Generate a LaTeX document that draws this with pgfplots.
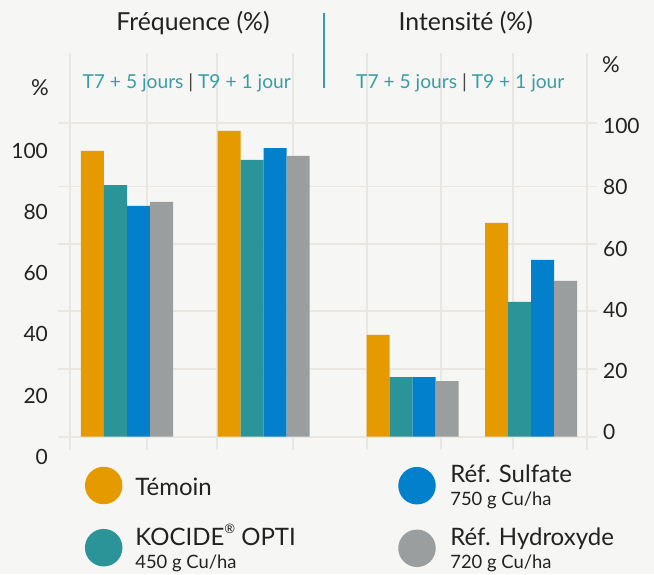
\documentclass[border=0pt]{standalone}
\usepackage{fontspec}
\setmainfont{Lato}
\usepackage{pgfplots}
\pgfplotsset{compat=1.18}
\definecolor{bg}{HTML}{F6F6F4}
\definecolor{gridc}{HTML}{EAE7E2}
\definecolor{corange}{HTML}{E59B00}
\definecolor{cteal}{HTML}{2A9499}
\definecolor{cblue}{HTML}{0280CB}
\definecolor{cgrey}{HTML}{9A9E9F}
\definecolor{subteal}{HTML}{3A9DA5}
\definecolor{txt}{HTML}{222222}
\begin{document}
\begin{tikzpicture}[x=0.5pt,y=0.5pt]
\fill[bg] (0,0) rectangle (654,574);
% main axis: grid + bars
\begin{axis}[at={(29.15pt,62pt)}, anchor=south west, scale only axis,
  width=269.2pt, height=198.35pt,
  xmin=58.3, xmax=596.7, ymin=-4.34, ymax=125.17,
  axis line style={draw=none}, major tick length=0pt,
  xtick={70.3,146.7,217.3,293.3,367.3,440.7,513.3,586.7}, xticklabels={},
  ytick={0,22.07,40.98,62.85,81.68,102.5}, yticklabels={},
  grid=major, grid style={gridc, line width=0.9pt}]
% Frequence (left scale)
\addplot[ybar, bar width=23, fill=corange, draw=none, y filter/.expression={(3.059*y-20)/3.063}] coordinates {(92.5,100) (229.2,106.5)};
\addplot[ybar, bar width=23, fill=cteal, draw=none, y filter/.expression={(3.059*y-20)/3.063}] coordinates {(115.5,88.8) (252.2,97.0)};
\addplot[ybar, bar width=23, fill=cblue, draw=none, y filter/.expression={(3.059*y-20)/3.063}] coordinates {(138.5,82.0) (275.2,100.9)};
\addplot[ybar, bar width=23, fill=cgrey, draw=none, y filter/.expression={(3.059*y-20)/3.063}] coordinates {(161.5,83.3) (298.2,98.3)};
% Intensite (right scale)
\addplot[ybar, bar width=23, fill=corange, draw=none, y filter/.expression={y+1.44}] coordinates {(378.2,31.8) (496.5,68.4)};
\addplot[ybar, bar width=23, fill=cteal, draw=none, y filter/.expression={y+1.44}] coordinates {(401.2,18.05) (519.5,42.6)};
\addplot[ybar, bar width=23, fill=cblue, draw=none, y filter/.expression={y+1.44}] coordinates {(424.2,18.05) (542.5,56.3)};
\addplot[ybar, bar width=23, fill=cgrey, draw=none, y filter/.expression={y+1.44}] coordinates {(447.2,16.7) (565.5,49.4)};
\end{axis}
% left tick labels
\begin{axis}[at={(24.15pt,58.65pt)}, anchor=south west, scale only axis,
  width=10pt, height=152.95pt, xmin=0, xmax=1, ymin=0, ymax=100,
  axis line style={draw=none}, major tick length=0pt, xtick=\empty,
  ytick={0,20,...,100},
  /pgf/number format/assume math mode=true,
  yticklabel style={anchor=east, inner sep=0pt, text=txt, font=\fontsize{10.5}{12}\selectfont}]
\addplot[draw=none] coordinates {(0,0)};
\end{axis}
% right tick labels
\begin{axis}[at={(301.35pt,70.85pt)}, anchor=south east, scale only axis,
  width=10pt, height=153.15pt, xmin=0, xmax=1, ymin=0, ymax=100,
  axis line style={draw=none}, major tick length=0pt, xtick=\empty,
  ytick={0,20,...,100}, yticklabel pos=right,
  /pgf/number format/assume math mode=true,
  yticklabel style={anchor=west, inner sep=0pt, text=txt, font=\fontsize{10.5}{12}\selectfont}]
\addplot[draw=none] coordinates {(0,0)};
\end{axis}
% titles
\node[anchor=base, inner sep=0pt, text=txt, font=\fontsize{12.4}{14}\selectfont] at (193,543.3) {Fréquence (\%)};
\node[anchor=base, inner sep=0pt, text=txt, font=\fontsize{12.4}{14}\selectfont] at (465.8,543.3) {Intensité (\%)};
\draw[subteal, line width=0.9pt] (324,561.3) -- (324,486);
\node[anchor=base, inner sep=0pt, text=subteal, font=\fontsize{9.6}{12}\selectfont] at (186.7,485.7) {T7 + 5 jours \textcolor{txt!85}{|} T9 + 1 jour};
\node[anchor=base, inner sep=0pt, text=subteal, font=\fontsize{9.6}{12}\selectfont] at (460.3,485.7) {T7 + 5 jours \textcolor{txt!85}{|} T9 + 1 jour};
\node[anchor=center, inner sep=0pt, text=txt, font=\fontsize{11}{13}\selectfont] at (40,486) {\%};
\node[anchor=center, inner sep=0pt, text=txt, font=\fontsize{11}{13}\selectfont] at (611,509.8) {\%};
% legend
\fill[corange] (103.7,88.5) circle (18.75);
\fill[cteal] (103.7,26.3) circle (18.75);
\fill[cblue] (417,88.3) circle (18.75);
\fill[cgrey] (417,25.7) circle (18.75);
\node[anchor=base west, inner sep=0pt, text=txt, font=\fontsize{12}{14}\selectfont] at (135,79) {Témoin};
\node[anchor=base west, inner sep=0pt, text=txt, font=\fontsize{12}{14}\selectfont] at (135,29) {KOCIDE\raisebox{0.5em}{\fontsize{6.5}{7}\selectfont ®} OPTI};
\node[anchor=base west, inner sep=0pt, text=txt, font=\fontsize{9.2}{11}\selectfont] at (135,6) {450 g Cu/ha};
\node[anchor=base west, inner sep=0pt, text=txt, font=\fontsize{12}{14}\selectfont] at (450,91.7) {Réf. Sulfate};
\node[anchor=base west, inner sep=0pt, text=txt, font=\fontsize{9.2}{11}\selectfont] at (450,68.3) {750 g Cu/ha};
\node[anchor=base west, inner sep=0pt, text=txt, font=\fontsize{12}{14}\selectfont] at (450,29) {Réf. Hydroxyde};
\node[anchor=base west, inner sep=0pt, text=txt, font=\fontsize{9.2}{11}\selectfont] at (450,6) {720 g Cu/ha};
\end{tikzpicture}
\end{document}
